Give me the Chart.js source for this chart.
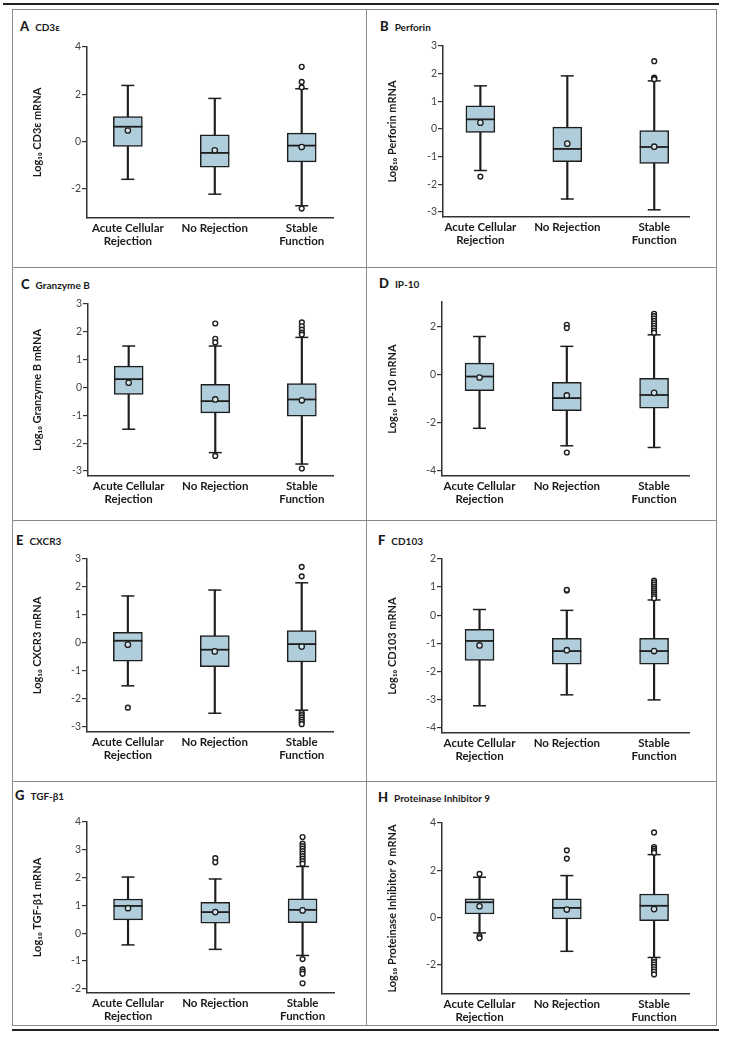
<!DOCTYPE html>
<html>
<head>
<meta charset="utf-8">
<script src="https://cdn.jsdelivr.net/npm/chart.js@4.4.1/dist/chart.umd.min.js"></script>
<style>
  body { margin: 0; background: #fff; width: 731px; height: 1050px; position: relative; overflow: hidden; font-family: Lato, "Open Sans", sans-serif; }
  .rule { position: absolute; background: #222; height: 2px; }
  .line { position: absolute; background: #8a8a8a; }
  .ttl { position: absolute; color: #1a1a1a; font-weight: bold; white-space: nowrap; line-height: 14px; }
  .ttl b { font-size: 13px; margin-right: 6px; }
  .ttl span { font-size: 10px; }
  canvas { position: absolute; }
</style>
</head>
<body>
<div class="rule" style="left:3px;top:3px;width:716px"></div>
<div class="rule" style="left:12px;top:1029px;width:707px"></div>
<div class="line" style="left:12px;top:9px;width:705px;height:1px"></div>
<div class="line" style="left:12px;top:1025px;width:705px;height:1px"></div>
<div class="line" style="left:12px;top:9px;width:1px;height:1016px"></div>
<div class="line" style="left:716px;top:9px;width:1px;height:1016px"></div>
<div class="line" style="left:366px;top:9px;width:1px;height:1016px"></div>
<div class="line" style="left:12px;top:267px;width:705px;height:1px"></div>
<div class="line" style="left:12px;top:520px;width:705px;height:1px"></div>
<div class="line" style="left:12px;top:781px;width:705px;height:1px"></div>

<script>
// === DADOS ===
const categories = [['Acute Cellular', 'Rejection'], 'No Rejection', ['Stable', 'Function']];
const letters = ['A', 'B', 'C', 'D', 'E', 'F', 'G', 'H'];
const genes = ['CD3ε', 'Perforin', 'Granzyme B', 'IP-10', 'CXCR3', 'CD103', 'TGF-β1', 'Proteinase Inhibitor 9'];

const yMin = [-3.25, -3.18, -3.18, -4.22, -3.18, -4.2, -2.15, -3.25];
const yMax = [4, 3, 3, 3.04, 3, 2, 4, 4];
const yTicks = [
  [-2, 0, 2, 4],
  [-3, -2, -1, 0, 1, 2, 3],
  [-3, -2, -1, 0, 1, 2, 3],
  [-4, -2, 0, 2],
  [-3, -2, -1, 0, 1, 2, 3],
  [-4, -3, -2, -1, 0, 1, 2],
  [-2, -1, 0, 1, 2, 3, 4],
  [-2, 0, 2, 4]
];

const whiskerLow = [
  [-1.61, -2.24, -2.73], [-1.50, -2.53, -2.92], [-1.50, -2.34, -2.75], [-2.23, -2.96, -3.03],
  [-1.53, -2.51, -2.40], [-3.23, -2.84, -3.02], [-0.42, -0.58, -0.80], [-0.66, -1.44, -1.70]
];
const boxQ1 = [
  [-0.21, -1.09, -0.87], [-0.12, -1.18, -1.24], [-0.25, -0.91, -1.03], [-0.66, -1.49, -1.39],
  [-0.65, -0.85, -0.68], [-1.61, -1.75, -1.75], [0.48, 0.36, 0.38], [0.14, -0.07, -0.14]
];
const medians = [
  [0.62, -0.49, -0.18], [0.35, -0.72, -0.65], [0.30, -0.49, -0.43], [-0.07, -0.97, -0.84],
  [0.08, -0.24, -0.04], [-0.92, -1.28, -1.28], [0.98, 0.76, 0.84], [0.64, 0.40, 0.49]
];
const boxQ3 = [
  [1.05, 0.28, 0.35], [0.84, 0.07, -0.06], [0.77, 0.11, 0.14], [0.49, -0.31, -0.14],
  [0.38, 0.26, 0.44], [-0.51, -0.83, -0.83], [1.23, 1.11, 1.24], [0.79, 0.79, 0.99]
];
const whiskerHigh = [
  [2.37, 1.82, 2.23], [1.56, 1.92, 1.74], [1.49, 1.49, 1.80], [1.60, 1.19, 1.67],
  [1.68, 1.89, 2.15], [0.20, 0.17, 0.54], [2.02, 1.95, 2.40], [1.70, 1.77, 2.66]
];
const means = [
  [0.46, -0.38, -0.24], [0.23, -0.53, -0.64], [0.17, -0.43, -0.46], [-0.11, -0.86, -0.75],
  [-0.06, -0.30, -0.13], [-1.08, -1.25, -1.28], [0.90, 0.76, 0.82], [0.47, 0.33, 0.35]
];
const outliers = [
  [[], [], [3.16, 2.52, 2.29, -2.85]],
  [[-1.72], [], [2.45, 1.86, 1.83, 1.80]],
  [[], [2.30, 1.75, 1.62, -2.46], [2.34, 2.20, 2.08, 1.97, 1.90, -2.91]],
  [[], [2.09, 1.95, -3.24], [2.55, 2.45, 2.35, 2.25, 2.15, 2.05, 1.95, 1.85, 1.76]],
  [[-2.31], [], [2.72, 2.38, -2.50, -2.58, -2.66, -2.74, -2.82, -2.90]],
  [[], [0.88, 0.90], [1.23, 1.16, 1.09, 1.02, 0.95, 0.88, 0.81, 0.74, 0.67, 0.60]],
  [[], [2.70, 2.55], [3.46, 3.22, 3.13, 3.04, 2.95, 2.86, 2.77, 2.68, 2.59, 2.50, -0.93, -1.30, -1.38, -1.46, -1.80]],
  [[1.84, -0.80, -0.88], [2.84, 2.49], [3.60, 2.98, 2.90, 2.82, 2.74, -1.80, -1.90, -2.00, -2.10, -2.20, -2.30, -2.42]]
];

// === LAYOUT (px na página) ===
const colX = [12, 367], colW = [355, 350];
const rowY = [9, 267, 520, 781], rowH = [258, 253, 261, 244];
const areaLeft = [87, 443, 88, 442, 87, 442, 87, 442];
const areaTop = [47, 46, 304, 302, 559, 559, 822, 823];
const areaRight = [333, 689, 333, 689, 333, 689, 334, 689];
const areaBottom = [218, 217, 476, 476, 732, 733, 993, 994];
const xRange = [[-0.47, 2.36], [-0.43, 2.40]];
const titlePos = [[20, 18], [380, 18], [21, 276], [379, 275], [16, 532], [378, 532], [15, 787], [378, 789]];

const dark = '#1e1e1e';
const boxFill = '#afcdda';

Chart.defaults.font.family = 'Lato, "Open Sans", sans-serif';

letters.forEach((letter, p) => {
  const col = p % 2, row = Math.floor(p / 2);
  const cx = colX[col], cy = rowY[row], cw = colW[col], ch = rowH[row];

  const t = document.createElement('div');
  t.className = 'ttl';
  t.style.left = titlePos[p][0] + 'px';
  t.style.top = titlePos[p][1] + 'px';
  t.innerHTML = '<b>' + letter + '</b><span>' + genes[p] + '</span>';
  document.body.appendChild(t);

  const canvas = document.createElement('canvas');
  canvas.width = cw; canvas.height = ch;
  canvas.style.left = cx + 'px'; canvas.style.top = cy + 'px';
  canvas.style.width = cw + 'px'; canvas.style.height = ch + 'px';
  document.body.appendChild(canvas);

  const idx = [0, 1, 2];
  const outPts = [];
  outliers[p].forEach((list, i) => list.forEach(v => outPts.push({ x: i, y: v })));
  const capPts = [];
  idx.forEach(i => { capPts.push({ x: i, y: whiskerLow[p][i] }); capPts.push({ x: i, y: whiskerHigh[p][i] }); });

  new Chart(canvas, {
    type: 'bar',
    data: {
      datasets: [
        { type: 'scatter', order: 0, data: outPts, pointRadius: 2.4, pointBackgroundColor: '#fff', pointBorderColor: dark, pointBorderWidth: 1.4 },
        { type: 'scatter', order: 1, data: idx.map(i => ({ x: i, y: means[p][i] })), pointRadius: 2.7, pointBackgroundColor: '#d3e3ea', pointBorderColor: dark, pointBorderWidth: 1.3 },
        { type: 'scatter', order: 2, data: idx.map(i => ({ x: i, y: medians[p][i] })), pointStyle: 'line', pointRadius: 14.5, pointBorderColor: dark, pointBorderWidth: 1.8 },
        { type: 'bar', order: 3, grouped: false, barThickness: 29, data: idx.map(i => ({ x: i, y: [boxQ1[p][i], boxQ3[p][i]] })), backgroundColor: boxFill, borderColor: dark, borderWidth: 1.5, borderSkipped: false },
        { type: 'scatter', order: 4, data: capPts, pointStyle: 'line', pointRadius: 6.5, pointBorderColor: dark, pointBorderWidth: 1.5 },
        { type: 'bar', order: 5, grouped: false, barThickness: 1.5, data: idx.map(i => ({ x: i, y: [whiskerLow[p][i], whiskerHigh[p][i]] })), backgroundColor: dark, borderWidth: 0 }
      ]
    },
    options: {
      responsive: false,
      maintainAspectRatio: false,
      animation: false,
      events: [],
      layout: { padding: { left: 0, top: areaTop[p] - cy, right: cx + cw - areaRight[p], bottom: 0 } },
      plugins: { legend: { display: false }, tooltip: { enabled: false } },
      scales: {
        x: {
          type: 'linear',
          offset: false,
          min: xRange[col][0], max: xRange[col][1],
          afterBuildTicks: s => { s.ticks = idx.map(v => ({ value: v })); },
          afterFit: s => { s.height = cy + ch - areaBottom[p]; },
          grid: { display: false, drawTicks: false },
          border: { display: true, color: '#333', width: 1.5 },
          ticks: { autoSkip: false, maxRotation: 0, padding: 3, color: '#1a1a1a',
                   font: { size: 11.5, weight: 'bold', lineHeight: 1.2 },
                   callback: v => categories[v] }
        },
        y: {
          min: yMin[p], max: yMax[p],
          afterBuildTicks: s => { s.ticks = yTicks[p].map(v => ({ value: v })); },
          afterFit: s => { s.width = areaLeft[p] - cx; },
          grid: { display: true, drawOnChartArea: false, drawTicks: true, tickLength: 5, color: '#333', lineWidth: 1.2 },
          border: { display: true, color: '#333', width: 1.5 },
          ticks: { padding: 1, color: '#444', font: { size: 10.5 }, callback: v => String(v) },
          title: { display: true, text: 'Log₁₀ ' + genes[p] + ' mRNA', color: '#1a1a1a',
                   font: { size: 11, weight: 'bold', lineHeight: 1.2 }, padding: { top: 19, bottom: 0 } }
        }
      }
    }
  });
});
</script>
</body>
</html>
